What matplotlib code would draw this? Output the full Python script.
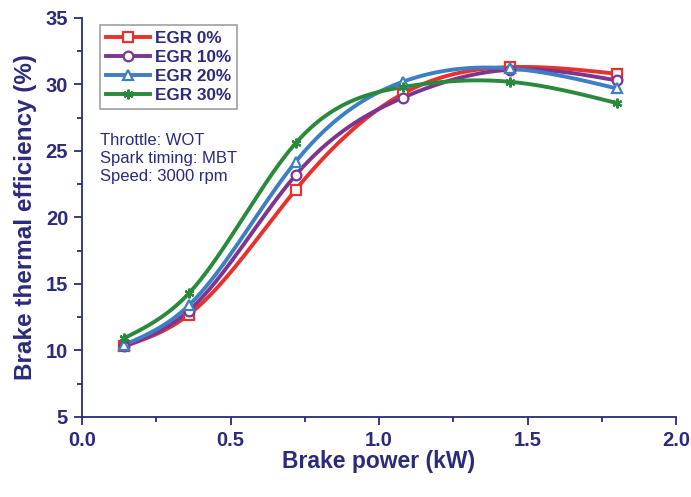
import numpy as np
import matplotlib.pyplot as plt
from matplotlib.ticker import MultipleLocator

# Brake power (kW) and brake thermal efficiency (%) per EGR rate
power = [0.14, 0.36, 0.72, 1.08, 1.44, 1.80]
egr_0 = [10.3, 12.7, 22.1, 29.3, 31.3, 30.8]
egr_10 = [10.3, 13.0, 23.2, 29.0, 31.1, 30.3]
egr_20 = [10.4, 13.4, 24.2, 30.2, 31.2, 29.7]
egr_30 = [10.9, 14.3, 25.6, 29.8, 30.2, 28.6]
labels = ['EGR 0%', 'EGR 10%', 'EGR 20%', 'EGR 30%']

navy = '#2b2a7c'
colors = ['#e8312c', '#7d3590', '#3d7fc5', '#2a8a3c']
markers = ['s', 'o', '^', (6, 2, 0)]


def spline(x, y, n=200):
    # natural cubic spline through the points
    x = np.asarray(x, float)
    y = np.asarray(y, float)
    h = np.diff(x)
    m = len(x)
    A = np.zeros((m, m))
    b = np.zeros(m)
    A[0, 0] = A[-1, -1] = 1
    for i in range(1, m - 1):
        A[i, i - 1] = h[i - 1]
        A[i, i] = 2 * (h[i - 1] + h[i])
        A[i, i + 1] = h[i]
        b[i] = 6 * ((y[i + 1] - y[i]) / h[i] - (y[i] - y[i - 1]) / h[i - 1])
    M = np.linalg.solve(A, b)
    xs = np.linspace(x[0], x[-1], n)
    idx = np.clip(np.searchsorted(x, xs) - 1, 0, m - 2)
    x0, x1 = x[idx], x[idx + 1]
    hh = x1 - x0
    t0, t1 = x1 - xs, xs - x0
    ys = (M[idx] * t0**3 + M[idx + 1] * t1**3) / (6 * hh) \
        + (y[idx] / hh - M[idx] * hh / 6) * t0 \
        + (y[idx + 1] / hh - M[idx + 1] * hh / 6) * t1
    return xs, ys


plt.rcParams['font.family'] = ['Liberation Sans', 'DejaVu Sans']

fig = plt.figure(figsize=(6.91, 4.97), dpi=100)
ax = fig.add_axes([0.1187, 0.161, 0.8596, 0.803])

series = [egr_0, egr_10, egr_20, egr_30]
for s, lab, c, mk in zip(series, labels, colors, markers):
    face = c if mk == markers[3] else 'white'
    xs, ys = spline(power, s)
    ax.plot(xs, ys, color=c, lw=2.8, zorder=2)
    ax.plot(power, s, ls='none', marker=mk, ms=7, mfc=face, mec=c, mew=1.6, zorder=3)
    ax.plot([], [], color=c, lw=2.8, marker=mk, ms=7, mfc=face, mec=c, mew=1.6, label=lab)

ax.set_xlim(0, 2.0)
ax.set_ylim(5, 35)
ax.xaxis.set_major_locator(MultipleLocator(0.5))
ax.xaxis.set_minor_locator(MultipleLocator(0.25))
ax.yaxis.set_major_locator(MultipleLocator(5))
ax.yaxis.set_minor_locator(MultipleLocator(2.5))
ax.xaxis.set_major_formatter(plt.FormatStrFormatter('%.1f'))

for side in ['top', 'right']:
    ax.spines[side].set_visible(False)
for side in ['left', 'bottom']:
    ax.spines[side].set_color(navy)
    ax.spines[side].set_linewidth(1.3)

ax.tick_params(which='both', direction='out', colors=navy, width=1.3)
ax.tick_params(which='major', length=6, labelsize=14.5, pad=4)
ax.tick_params(which='minor', length=3.5)
for t in ax.get_xticklabels() + ax.get_yticklabels():
    t.set_fontweight('bold')

ax.set_xlabel('Brake power (kW)', fontsize=16.5, fontweight='bold', color=navy, labelpad=0)
ax.set_ylabel('Brake thermal efficiency (%)', fontsize=17.5, fontweight='bold', color=navy, labelpad=6)

leg = ax.legend(loc='upper left', bbox_to_anchor=(0.03, 0.983), frameon=True, fancybox=False,
                handlelength=2.6, handletextpad=0.25, labelspacing=0.25, borderpad=0.35,
                borderaxespad=0, prop={'size': 12.3, 'weight': 'bold'})
leg.get_frame().set_edgecolor('#888888')
leg.get_frame().set_linewidth(1.2)
for t in leg.get_texts():
    t.set_color(navy)

ax.text(0.03, 0.712, 'Throttle: WOT\nSpark timing: MBT\nSpeed: 3000 rpm',
        transform=ax.transAxes, fontsize=12, color=navy, va='top', linespacing=1.25)

fig.savefig('out.png', dpi=100)
